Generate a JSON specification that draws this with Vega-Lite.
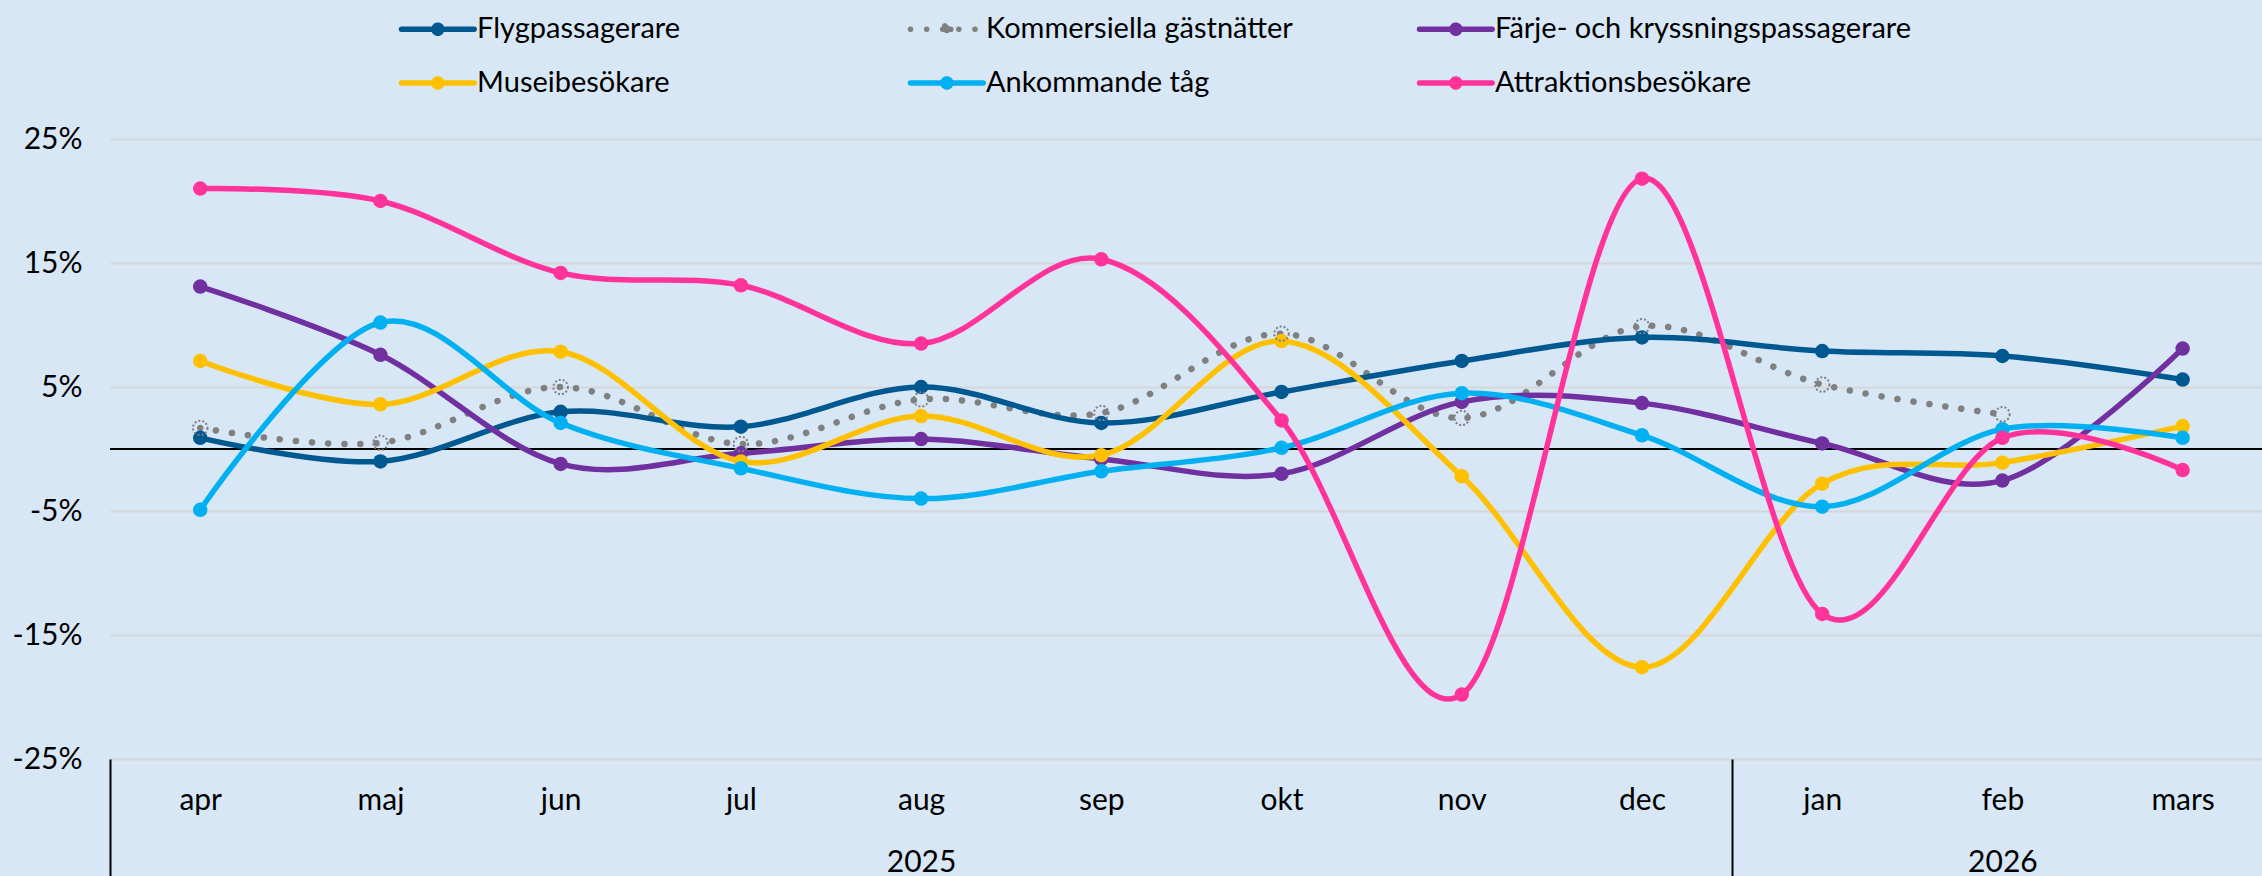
{
  "$schema": "https://vega.github.io/schema/vega-lite/v6.json",
  "autosize": {"type": "none"},
  "width": 2152,
  "height": 620,
  "padding": {"left": 110, "top": 139, "right": 0, "bottom": 117},
  "background": "#d8e7f6",
  "config": {
    "view": {"stroke": null},
    "font": "Lato",
    "axis": {"labelFont": "Lato", "labelFontSize": 30, "labelColor": "#000000", "title": null}
  },
  "data": {
    "values": [
      {"m": "apr", "s": "Flygpassagerare", "v": 0.9},
      {"m": "maj", "s": "Flygpassagerare", "v": -1.0},
      {"m": "jun", "s": "Flygpassagerare", "v": 3.0},
      {"m": "jul", "s": "Flygpassagerare", "v": 1.8},
      {"m": "aug", "s": "Flygpassagerare", "v": 5.0},
      {"m": "sep", "s": "Flygpassagerare", "v": 2.1},
      {"m": "okt", "s": "Flygpassagerare", "v": 4.6},
      {"m": "nov", "s": "Flygpassagerare", "v": 7.1},
      {"m": "dec", "s": "Flygpassagerare", "v": 9.0},
      {"m": "jan", "s": "Flygpassagerare", "v": 7.9},
      {"m": "feb", "s": "Flygpassagerare", "v": 7.5},
      {"m": "mars", "s": "Flygpassagerare", "v": 5.6},
      {"m": "apr", "s": "Kommersiella gästnätter", "v": 1.7},
      {"m": "maj", "s": "Kommersiella gästnätter", "v": 0.5},
      {"m": "jun", "s": "Kommersiella gästnätter", "v": 5.0},
      {"m": "jul", "s": "Kommersiella gästnätter", "v": 0.4},
      {"m": "aug", "s": "Kommersiella gästnätter", "v": 4.0},
      {"m": "sep", "s": "Kommersiella gästnätter", "v": 2.9},
      {"m": "okt", "s": "Kommersiella gästnätter", "v": 9.3},
      {"m": "nov", "s": "Kommersiella gästnätter", "v": 2.5},
      {"m": "dec", "s": "Kommersiella gästnätter", "v": 9.9},
      {"m": "jan", "s": "Kommersiella gästnätter", "v": 5.2},
      {"m": "feb", "s": "Kommersiella gästnätter", "v": 2.8},
      {"m": "apr", "s": "Färje- och kryssningspassagerare", "v": 13.1},
      {"m": "maj", "s": "Färje- och kryssningspassagerare", "v": 7.6},
      {"m": "jun", "s": "Färje- och kryssningspassagerare", "v": -1.2},
      {"m": "jul", "s": "Färje- och kryssningspassagerare", "v": -0.35},
      {"m": "aug", "s": "Färje- och kryssningspassagerare", "v": 0.8},
      {"m": "sep", "s": "Färje- och kryssningspassagerare", "v": -0.8},
      {"m": "okt", "s": "Färje- och kryssningspassagerare", "v": -2.0},
      {"m": "nov", "s": "Färje- och kryssningspassagerare", "v": 3.8},
      {"m": "dec", "s": "Färje- och kryssningspassagerare", "v": 3.7},
      {"m": "jan", "s": "Färje- och kryssningspassagerare", "v": 0.45},
      {"m": "feb", "s": "Färje- och kryssningspassagerare", "v": -2.55},
      {"m": "mars", "s": "Färje- och kryssningspassagerare", "v": 8.1},
      {"m": "apr", "s": "Museibesökare", "v": 7.1},
      {"m": "maj", "s": "Museibesökare", "v": 3.6},
      {"m": "jun", "s": "Museibesökare", "v": 7.85},
      {"m": "jul", "s": "Museibesökare", "v": -1.0},
      {"m": "aug", "s": "Museibesökare", "v": 2.66},
      {"m": "sep", "s": "Museibesökare", "v": -0.5},
      {"m": "okt", "s": "Museibesökare", "v": 8.7},
      {"m": "nov", "s": "Museibesökare", "v": -2.2},
      {"m": "dec", "s": "Museibesökare", "v": -17.6},
      {"m": "jan", "s": "Museibesökare", "v": -2.8},
      {"m": "feb", "s": "Museibesökare", "v": -1.1},
      {"m": "mars", "s": "Museibesökare", "v": 1.85},
      {"m": "apr", "s": "Ankommande tåg", "v": -4.9},
      {"m": "maj", "s": "Ankommande tåg", "v": 10.2},
      {"m": "jun", "s": "Ankommande tåg", "v": 2.1},
      {"m": "jul", "s": "Ankommande tåg", "v": -1.56},
      {"m": "aug", "s": "Ankommande tåg", "v": -4.0},
      {"m": "sep", "s": "Ankommande tåg", "v": -1.8},
      {"m": "okt", "s": "Ankommande tåg", "v": 0.1},
      {"m": "nov", "s": "Ankommande tåg", "v": 4.5},
      {"m": "dec", "s": "Ankommande tåg", "v": 1.1},
      {"m": "jan", "s": "Ankommande tåg", "v": -4.65},
      {"m": "feb", "s": "Ankommande tåg", "v": 1.6},
      {"m": "mars", "s": "Ankommande tåg", "v": 0.9},
      {"m": "apr", "s": "Attraktionsbesökare", "v": 21.0},
      {"m": "maj", "s": "Attraktionsbesökare", "v": 20.0},
      {"m": "jun", "s": "Attraktionsbesökare", "v": 14.2},
      {"m": "jul", "s": "Attraktionsbesökare", "v": 13.2},
      {"m": "aug", "s": "Attraktionsbesökare", "v": 8.5},
      {"m": "sep", "s": "Attraktionsbesökare", "v": 15.3},
      {"m": "okt", "s": "Attraktionsbesökare", "v": 2.3},
      {"m": "nov", "s": "Attraktionsbesökare", "v": -19.8},
      {"m": "dec", "s": "Attraktionsbesökare", "v": 21.8},
      {"m": "jan", "s": "Attraktionsbesökare", "v": -13.3},
      {"m": "feb", "s": "Attraktionsbesökare", "v": 0.9},
      {"m": "mars", "s": "Attraktionsbesökare", "v": -1.7}
    ]
  },
  "layer": [
    {
      "data": {"values": [{"z": 0}]},
      "mark": {"type": "rule", "color": "#000000", "strokeWidth": 2},
      "encoding": {"y": {"field": "z", "type": "quantitative"}}
    },
    {
      "transform": [{"filter": "datum.s === 'Kommersiella gästnätter'"}],
      "mark": {"type": "line", "interpolate": "cardinal", "strokeWidth": 6.5, "strokeDash": [0.1, 16], "strokeCap": "round"},
      "encoding": {
        "x": {
          "field": "m", "type": "ordinal",
          "scale": {"type": "point", "domain": ["apr","maj","jun","jul","aug","sep","okt","nov","dec","jan","feb","mars"], "padding": 0.4705, "align": 0.532},
          "axis": {"orient": "bottom", "domain": false, "ticks": false, "tickSize": 0, "grid": false, "labelBaseline": "alphabetic", "labelPadding": 50, "labelAngle": 0}
        },
        "y": {
          "field": "v", "type": "quantitative",
          "scale": {"domain": [-25, 25], "nice": false, "zero": false},
          "axis": {"values": [-25,-15,-5,5,15,25], "labelExpr": "datum.value + '%'", "domain": false, "ticks": false, "tickSize": 0, "grid": true, "gridColor": "#d6d6d6", "gridWidth": 2, "labelPadding": 28, "labelBaseline": "middle"}
        },
        "color": {
          "field": "s", "type": "nominal",
          "scale": {
            "domain": ["Flygpassagerare", "Museibesökare", "Kommersiella gästnätter", "Ankommande tåg", "Färje- och kryssningspassagerare", "Attraktionsbesökare"],
            "range": ["#005891", "#ffc000", "#808080", "#00b0f0", "#7030a0", "#ff3399"]
          },
          "legend": {
            "orient": "none", "legendX": 282, "legendY": -124.5, "columns": 3, "title": null,
            "symbolType": "M-7.27,0L7.27,0M0.79,0A0.79,0.79,0,1,1,-0.79,0A0.79,0.79,0,1,1,0.79,0Z",
            "symbolSize": 100, "symbolOffset": 31.35, "labelOffset": 24.7, "symbolStrokeWidth": 5.5,
            "labelFontSize": 29, "labelFont": "Lato", "labelLimit": 700, "labelColor": "#000000",
            "gridAlign": "all", "columnPadding": 5, "rowPadding": 23, "padding": 0,
            "encode": {
              "symbols": {
                "update": {
                  "fill": {"signal": "datum.value === 'Kommersiella gästnätter' ? 'transparent' : scale('color', datum.value)"},
                  "stroke": {"signal": "scale('color', datum.value)"},
                  "strokeDash": {"signal": "datum.value === 'Kommersiella gästnätter' ? [0.1, 16] : [1, 0]"},
                  "strokeCap": {"value": "round"},
                  "opacity": {"value": 1}
                }
              }
            }
          }
        }
      }
    },
    {
      "transform": [{"filter": "datum.s !== 'Kommersiella gästnätter'"}],
      "mark": {"type": "line", "interpolate": "cardinal", "strokeWidth": 5.5},
      "encoding": {
        "x": {
          "field": "m", "type": "ordinal",
          "scale": {"type": "point", "domain": ["apr","maj","jun","jul","aug","sep","okt","nov","dec","jan","feb","mars"], "padding": 0.4705, "align": 0.532},
          "axis": {"orient": "bottom", "values": ["aug", "feb"], "labelExpr": "datum.value === 'aug' ? '2025' : '2026'", "domain": false, "ticks": false, "tickSize": 0, "grid": false, "labelBaseline": "alphabetic", "labelPadding": 112, "labelAngle": 0}
        },
        "y": {"field": "v", "type": "quantitative"},
        "color": {"field": "s", "type": "nominal"}
      }
    },
    {
      "transform": [{"filter": "datum.s !== 'Kommersiella gästnätter'"}],
      "mark": {"type": "point", "shape": "circle", "filled": true, "size": 210, "opacity": 1},
      "encoding": {
        "x": {
          "field": "m", "type": "ordinal",
          "scale": {"type": "point", "domain": ["apr","maj","jun","jul","aug","sep","okt","nov","dec","jan","feb","mars"], "padding": 0.4705, "align": 0.532},
          "axis": {"orient": "bottom", "values": ["apr", "jan"], "labels": false, "domain": false, "ticks": true, "tickSize": 117, "tickWidth": 2, "tickColor": "#000000", "tickOffset": -90.1, "grid": false}
        },
        "y": {"field": "v", "type": "quantitative"},
        "color": {"field": "s", "type": "nominal"}
      }
    },
    {
      "transform": [{"filter": "datum.s === 'Kommersiella gästnätter'"}],
      "mark": {"type": "point", "shape": "circle", "filled": false, "size": 210, "opacity": 1, "strokeWidth": 2, "strokeDash": [2, 2]},
      "encoding": {
        "x": {
          "field": "m", "type": "ordinal",
          "scale": {"type": "point", "domain": ["apr","maj","jun","jul","aug","sep","okt","nov","dec","jan","feb","mars"], "padding": 0.4705, "align": 0.532},
          "axis": null
        },
        "y": {"field": "v", "type": "quantitative"},
        "color": {"field": "s", "type": "nominal"}
      }
    }
  ],
  "resolve": {"axis": {"x": "independent"}}
}
